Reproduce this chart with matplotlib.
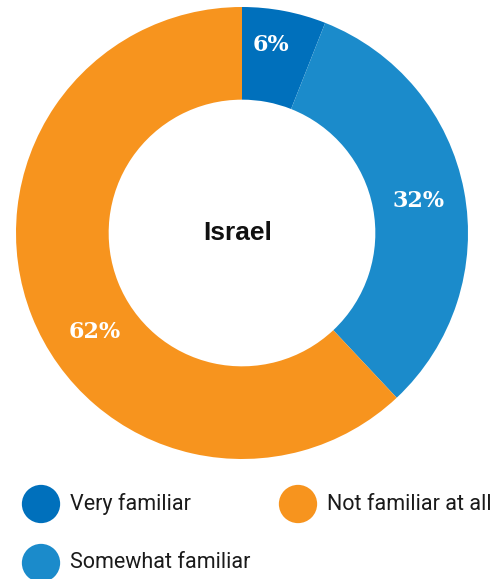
import matplotlib.pyplot as plt

# share of respondents by familiarity
labels = ['Very familiar', 'Somewhat familiar', 'Not familiar at all']
values = [6, 32, 62]
colors = ['#0070BC', '#1B8BCB', '#F7941E']
center_title = 'Israel'

# where each percentage sits inside its ring segment (radius units)
label_pos = [(0.13, 0.83), (0.78, 0.14), (-0.65, -0.44)]

W, H = 491, 579
fig = plt.figure(figsize=(W / 100, H / 100), dpi=100)

# donut
ax = fig.add_axes([16 / W, 120 / H, 452 / W, 452 / H])
wedges, texts, autotexts = ax.pie(
    values, colors=colors, startangle=90, counterclock=False,
    autopct='%d%%', pctdistance=0.795,
    wedgeprops=dict(width=0.41, edgecolor='none'),
    textprops=dict(color='white', fontsize=16, fontweight='bold',
                   family='DejaVu Serif'))
for t, p in zip(autotexts, label_pos):
    t.set_position(p)
ax.set_xlim(-1, 1)
ax.set_ylim(-1, 1)
ax.set_aspect('equal')
ax.text(-0.02, 0, center_title, ha='center', va='center', fontsize=19,
        fontweight='bold', family='Liberation Sans', color='#111111')

# legend drawn in pixel space
lg = fig.add_axes([0, 0, 1, 1])
lg.set_xlim(0, W)
lg.set_ylim(H, 0)
lg.axis('off')
spots = [(41, 504), (41, 563), (298, 504)]
for (x, y), lab, c in zip(spots, labels, colors):
    lg.scatter([x], [y], s=760, color=c, edgecolor='none')
    lg.text(x + 29, y, lab, va='center', ha='left', fontsize=15.5,
            family='Roboto', color='#1a1a1a')

fig.savefig('out.png', dpi=100)
